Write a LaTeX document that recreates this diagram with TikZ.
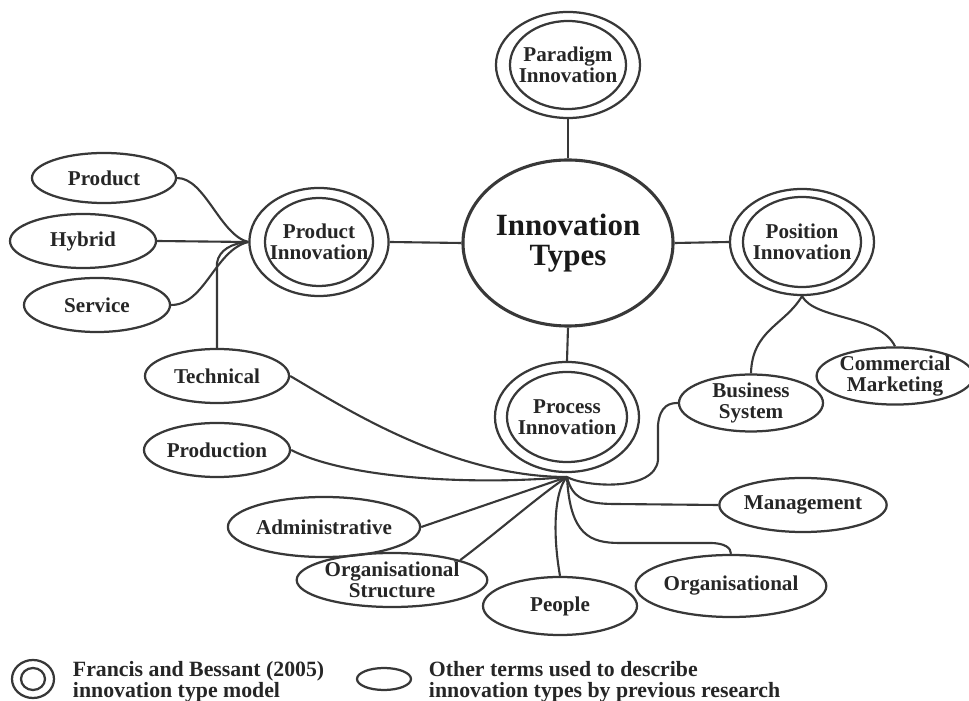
\documentclass[tikz,border=0pt]{standalone}
\usepackage{fontspec}
\setmainfont{Liberation Serif}
\usetikzlibrary{shapes.geometric}

\definecolor{ink}{gray}{0.22}

\begin{document}
\begin{tikzpicture}[x=0.025cm,y=-0.025cm,
    ring/.style={ellipse, draw=ink, line width=1.6pt, inner sep=0pt},
    sz/.style 2 args={minimum width=#1cm, minimum height=#2cm},
    term/.style={ring, text=black!85, align=center,
        font=\fontsize{15}{15}\selectfont\bfseries},
    link/.style={draw=ink, line width=1.5pt},
    keytext/.style={anchor=west, align=left, text=black!85,
        font=\fontsize{15.5}{15}\selectfont\bfseries}]
    \useasboundingbox (0,0) rectangle (969,701);

    % Centro
    \node[ring, line width=2.2pt, sz={5.25}{4.15}, text=black!90, align=center,
        font=\fontsize{22}{21}\selectfont\bfseries] (types) at (568,243) {Innovation\\Types};

    % Modelo de Francis e Bessant
    \node[term, sz={3.6}{2.65}] (para) at (568,65) {Paradigm\\Innovation};
    \node[ring, sz={2.9}{2.2}] (para-in) at (para) {};
    \node[term, sz={3.35}{2.7}] (prodinn) at (319,242) {Product\\Innovation};
    \node[ring, sz={2.7}{2.2}] (prodinn-in) at (prodinn) {};
    \node[term, sz={3.6}{2.65}] (posinn) at (802,242) {Position\\Innovation};
    \node[ring, sz={2.95}{2.25}] (posinn-in) at (posinn) {};
    \node[term, sz={3.6}{2.75}] (procinn) at (567,417) {Process\\Innovation};
    \node[ring, sz={3.0}{2.25}] (procinn-in) at (procinn) {};

    \draw[link] (para.south) -- (types.north);
    \draw[link] (types.west) -- (prodinn.east);
    \draw[link] (types.east) -- (posinn.west);
    \draw[link] (types.south) -- (procinn.north);

    % Outros termos
    \node[term, sz={3.6}{1.25}] (product) at (104,178) {Product};
    \node[term, sz={3.65}{1.35}] (hybrid) at (83,241) {Hybrid};
    \node[term, sz={3.65}{1.35}] (service) at (97,305) {Service};
    \node[term, sz={3.6}{1.35}] (technical) at (217,376) {Technical};
    \node[term, sz={3.65}{1.35}] (production) at (217,450) {Production};
    \node[term, sz={3.95}{1.5}] (admin) at (324,527) {Administrative};
    \node[term, sz={4.2}{1.35}] (orgstruct) at (392,580) {Organisational\\Structure};
    \node[term, sz={3.85}{1.45}] (people) at (560,606) {People};
    \node[term, sz={3.95}{1.55}] (orgnl) at (731,586) {Organisational};
    \node[term, sz={3.6}{1.35}] (mgmt) at (803,505) {Management};
    \node[term, sz={3.6}{1.3}] (business) at (751,403) {Business\\System};
    \node[term, sz={3.6}{1.4}] (commercial) at (895,376) {Commercial\\Marketing};

    % Ligacoes ao produto
    \draw[link] (product.east) .. controls (205,178) and (220,235) .. (prodinn.west);
    \draw[link] (hybrid.east) -- (prodinn.west);
    \draw[link] (service.east) .. controls (205,305) and (215,250) .. (prodinn.west);
    \draw[link] (technical.north) -- ++(0,-85) .. controls (219,250) and (232,243) .. (prodinn.west);

    % Ligacoes ao processo
    \coordinate (prochub) at (567,477);
    \draw[link] (technical.east) .. controls (340,405) and (450,477) .. (prochub);
    \draw[link] (production.east) .. controls (350,480) and (480,485) .. (prochub);
    \draw[link] (admin.east) -- (prochub);
    \draw[link] (orgstruct.north east) .. controls (500,530) and (540,495) .. (prochub);
    \draw[link] (people.north) .. controls (552,530) and (555,490) .. (prochub);
    \draw[link] (prochub) .. controls (570,535) and (590,543) .. (620,543)
        -- (710,543) .. controls (725,543) and (731,548) .. (orgnl.north);
    \draw[link] (prochub) .. controls (572,498) and (585,504) .. (615,504) -- (mgmt.west);
    \draw[link] (prochub) .. controls (585,487) and (655,492) .. (658,460)
        -- (658,425) .. controls (660,405) and (670,403) .. (business.west);

    % Ligacoes a posicao
    \draw[link] (posinn.south) .. controls (785,325) and (752,330) .. (business.north);
    \draw[link] (posinn.south) .. controls (815,320) and (880,315) .. (commercial.north);

    % Legenda
    \node[ring, sz={1.05}{0.95}] (key1) at (33,679) {};
    \node[ring, sz={0.6}{0.55}] (key1-in) at (key1) {};
    \node[keytext] (key1text) at (68,682) {Francis and Bessant (2005)\\innovation type model};
    \node[ring, sz={1.35}{0.55}] (key2) at (384,679) {};
    \node[keytext] (key2text) at (424,682) {Other terms used to describe\\innovation types by previous research};

\end{tikzpicture}
\end{document}
